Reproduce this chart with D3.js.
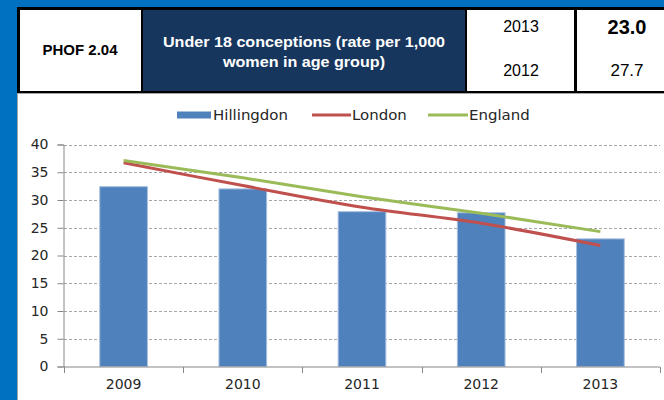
<!DOCTYPE html>
<html>
<head>
<meta charset="utf-8">
<script src="https://cdn.jsdelivr.net/npm/d3@7"></script>
<style>
  html, body { margin: 0; padding: 0; background: #0070c0; }
  svg { display: block; }
</style>
</head>
<body>
<div id="chart"></div>
<script>
// header values
const indicator = "PHOF 2.04";
const titleLines = ["Under 18 conceptions (rate per 1,000", "women in age group)"];
const headYears = ["2013", "2012"];
const headValues = ["23.0", "27.7"];

// chart data
const years = ["2009", "2010", "2011", "2012", "2013"];
const hillingdon = [32.4, 32.0, 27.9, 27.7, 23.0];
const london = [36.7, 32.6, 28.7, 25.8, 21.8];
const england = [37.1, 34.0, 30.6, 27.6, 24.3];
const yTicks = [0, 5, 10, 15, 20, 25, 30, 35, 40];

const W = 664, H = 400;
const svg = d3.select("#chart").append("svg")
  .attr("width", W)
  .attr("height", H);

svg.append("rect").attr("width", W).attr("height", H).attr("fill", "#0070c0");

//header table
const head = svg.append("g");
head.append("rect").attr("x", 17).attr("y", 7).attr("width", W - 17).attr("height", 86).attr("fill", "#000");
const cells = [
  {x: 20, w: 121, fill: "#fff"},
  {x: 143, w: 322, fill: "#17365d"},
  {x: 467, w: 107, fill: "#fff"},
  {x: 577, w: 90, fill: "#fff"}
];
head.selectAll("rect.cell").data(cells).enter().append("rect")
  .attr("class", "cell")
  .attr("x", d => d.x).attr("y", 10)
  .attr("width", d => d.w).attr("height", 81)
  .attr("fill", d => d.fill);

const hf = "'Liberation Sans', Arial, sans-serif";
head.append("text")
  .attr("x", 80).attr("y", 55)
  .attr("text-anchor", "middle")
  .style("font", "bold 15px " + hf)
  .attr("fill", "#000")
  .text(indicator);
head.selectAll("text.title").data(titleLines).enter().append("text")
  .attr("class", "title")
  .attr("transform", (d, i) => "translate(304," + (47 + i * 20) + ") scale(1.075,1)")
  .attr("text-anchor", "middle")
  .style("font", "bold 15px " + hf)
  .attr("fill", "#fff")
  .text(d => d);
head.selectAll("text.yr").data(headYears).enter().append("text")
  .attr("class", "yr")
  .attr("x", 521).attr("y", (d, i) => 32 + i * 44)
  .attr("text-anchor", "middle")
  .style("font", "16px " + hf)
  .attr("fill", "#000")
  .text(d => d);
head.selectAll("text.val").data(headValues).enter().append("text")
  .attr("class", "val")
  .attr("x", 627).attr("y", (d, i) => i === 0 ? 34 : 76)
  .attr("text-anchor", "middle")
  .style("font", (d, i) => i === 0 ? "bold 20px " + hf : "17px " + hf)
  .attr("fill", "#000")
  .text(d => d);

//chart panel
svg.append("rect")
  .attr("x", 17.5).attr("y", 93.5)
  .attr("width", W).attr("height", H)
  .attr("fill", "#fff")
  .attr("stroke", "#a6a6a6");

const plotL = 64, plotR = 660, plotT = 144.5, plotB = 366.5;
const cf = "'DejaVu Sans', sans-serif";

const x = d3.scaleBand()
  .domain(years)
  .range([plotL, plotR])
  .paddingInner(0.6)
  .paddingOuter(0.3);
const y = d3.scaleLinear()
  .domain([0, 40])
  .range([plotB, plotT]);

//gridlines
svg.append("g").selectAll("line").data(yTicks.filter(d => d > 0)).enter().append("line")
  .attr("x1", plotL).attr("x2", plotR)
  .attr("y1", d => Math.round(y(d)) + 0.5).attr("y2", d => Math.round(y(d)) + 0.5)
  .attr("stroke", "#a6a6a6")
  .attr("stroke-dasharray", "3,2");

//bars
svg.append("g").selectAll("rect").data(hillingdon).enter().append("rect")
  .attr("x", (d, i) => x(years[i]))
  .attr("y", d => y(d))
  .attr("width", x.bandwidth())
  .attr("height", d => y(0) - y(d))
  .attr("fill", "#4f81bd")
  .attr("stroke", "#a7bfde")
  .attr("stroke-width", 1);

//axes
const yAxis = d3.axisLeft(y).tickValues(yTicks).tickSize(6).tickPadding(9);
const gy = svg.append("g").attr("transform", "translate(" + (plotL - 0.5) + ",0)").call(yAxis);
const xAxis = d3.axisBottom(x).tickSize(0).tickPadding(12);
const gx = svg.append("g").attr("transform", "translate(0," + (plotB + 0.5) + ")").call(xAxis);
[gx, gy].forEach(g => {
  g.select(".domain").attr("stroke", "#868686");
  g.selectAll(".tick line").attr("stroke", "#868686");
  g.selectAll("text").style("font", "14px " + cf).attr("fill", "#262626");
});
gx.select(".domain").attr("d", "M" + plotL + ",0H" + plotR);

//category boundary ticks
const bounds = d3.range(years.length + 1).map(i => plotL + i * x.step());
gx.selectAll("line.bound").data(bounds).enter().append("line")
  .attr("class", "bound")
  .attr("x1", d => Math.round(d) + 0.5).attr("x2", d => Math.round(d) + 0.5)
  .attr("y1", 0).attr("y2", 6)
  .attr("stroke", "#868686");

//lines
const cx = (d, i) => x(years[i]) + x.bandwidth() / 2;
const line = d3.line().x(cx).y(d => y(d)).curve(d3.curveCatmullRom.alpha(0.5));
svg.append("path").datum(london)
  .attr("d", line).attr("fill", "none")
  .attr("stroke", "#c0504d").attr("stroke-width", 3);
svg.append("path").datum(england)
  .attr("d", line).attr("fill", "none")
  .attr("stroke", "#9bbb59").attr("stroke-width", 3);

//legend
const legend = svg.append("g").attr("id", "legend");
const legText = (tx, label) => legend.append("text")
  .attr("transform", "translate(" + tx + ",120) scale(1.07,1)")
  .style("font", "14px " + cf).attr("fill", "#262626").text(label);
legend.append("rect")
  .attr("x", 177).attr("y", 111.5)
  .attr("width", 34).attr("height", 7)
  .attr("fill", "#4f81bd");
legText(213, "Hillingdon");
legend.append("line").attr("x1", 312).attr("x2", 351).attr("y1", 115).attr("y2", 115)
  .attr("stroke", "#c0504d").attr("stroke-width", 3);
legText(352, "London");
legend.append("line").attr("x1", 428).attr("x2", 468).attr("y1", 115).attr("y2", 115)
  .attr("stroke", "#9bbb59").attr("stroke-width", 3);
legText(469, "England");
</script>
</body>
</html>
